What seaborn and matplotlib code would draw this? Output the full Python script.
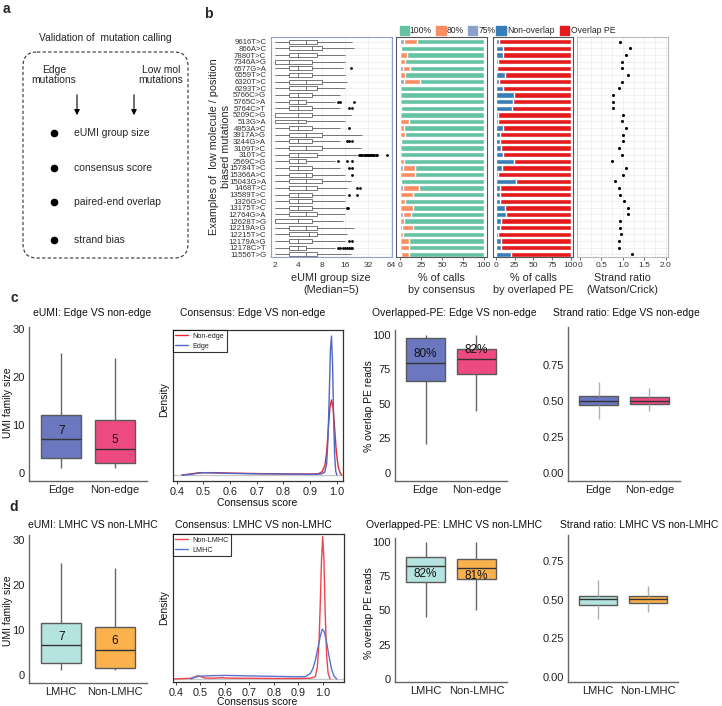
import numpy as np
import pandas as pd
import matplotlib
matplotlib.use("Agg")
import matplotlib.pyplot as plt
import matplotlib.patches as mpatches
from matplotlib.lines import Line2D
from matplotlib.ticker import NullLocator
import seaborn as sns

# ---------------- data ----------------
mutations = ["9616T>C", "866A>C", "7880T>C", "7346A>G", "6577G>A", "6559T>C", "6320T>C",
             "6293T>C", "5766C>G", "5765C>A", "5764C>T", "5209C>G", "513G>A", "4953A>C",
             "3917A>G", "3244G>A", "3109T>C", "310T>C", "2569C>G", "15784T>C", "15366A>C",
             "15043G>A", "1468T>C", "13589T>C", "1326G>C", "13175T>C", "12764G>A",
             "12628T>G", "12219A>G", "12215T>C", "12179A>G", "12178C>T", "11556T>G"]

# eUMI group size box stats (log2 axis)
eumi_lo = [2, 2, 2, 2, 2, 2, 2, 2, 2, 2, 2, 2, 2, 2, 2, 2, 2, 2, 2, 2, 2, 2, 2, 2, 2, 2, 2, 2, 2, 2, 2, 2, 2]
eumi_q1 = [3, 3, 3, 2, 3, 3, 3, 3, 3, 3, 3, 2, 2, 3, 3, 3, 3, 3, 3, 3, 3, 3, 3, 3, 3, 3, 3, 2, 3, 3, 3, 3, 3]
eumi_med = [5, 6, 4, 3, 4, 4, 5, 5, 4, 4, 4, 4, 4, 4, 5, 4, 5, 4, 4, 4, 5, 5, 5, 4, 4, 4, 5, 4, 5, 5.5, 4, 4, 5]
eumi_q3 = [7, 8, 7, 6, 6, 6, 8, 7, 6, 5, 6, 6, 5, 6, 8, 6, 8, 7, 5, 6, 6, 8, 7, 6, 6, 6, 7, 6, 7, 7, 6, 5, 7]
eumi_hi = [20, 21, 16, 16, 15, 16, 17, 16, 14, 12, 14, 19, 16, 14, 27, 14, 26, 23, 12, 14, 16, 19, 17, 16,
           16, 16, 16, 15, 21, 17, 16, 12, 19]
outlier_mut = ["6577G>A",
               "5765C>A", "5765C>A", "5765C>A",
               "5764C>T", "5764C>T",
               "4953A>C",
               "3244G>A", "3244G>A", "3244G>A",
               "310T>C", "310T>C", "310T>C", "310T>C", "310T>C", "310T>C", "310T>C", "310T>C", "310T>C",
               "310T>C", "310T>C", "310T>C", "310T>C", "310T>C", "310T>C", "310T>C", "310T>C", "310T>C",
               "2569C>G", "2569C>G", "2569C>G",
               "15784T>C", "15784T>C",
               "15366A>C",
               "1468T>C", "1468T>C",
               "13589T>C", "13589T>C",
               "13175T>C", "13175T>C",
               "12179A>G", "12179A>G",
               "12178C>T", "12178C>T", "12178C>T", "12178C>T", "12178C>T", "12178C>T", "12178C>T", "12178C>T"]
outlier_val = [19,
               13, 14, 21,
               18, 20,
               18,
               17, 18, 20,
               24, 25, 26, 27, 28, 29, 30, 31, 32, 33, 34, 35, 36, 37, 38, 40, 42, 56,
               13, 17, 20,
               18, 20,
               20,
               23, 25,
               18, 23,
               17, 17.5,
               18, 20,
               13, 14, 15, 16, 17, 18, 19, 20]

# % of calls by consensus
cons_75 = [5, 0, 0, 0, 3, 0, 5, 0, 0, 0, 0, 0, 0, 0, 0, 0, 0, 0, 0, 3, 0, 0, 3, 0, 0, 0, 3, 0, 2, 0, 0, 0, 1]
cons_80 = [15, 1, 8, 6, 9, 6, 19, 0, 0, 0, 1, 0, 10, 4, 6, 1, 0, 0, 4, 15, 18, 1, 19, 15, 6, 15, 10, 5, 13, 3,
           10, 10, 9]
cons_100 = [80, 99, 92, 94, 88, 94, 76, 100, 100, 100, 99, 100, 90, 96, 94, 99, 100, 100, 96, 82, 82, 99, 78,
            85, 94, 85, 87, 95, 85, 97, 90, 90, 90]

# % of calls by overlapped PE
pe_non = [4, 10, 10, 3, 1.5, 12, 4, 10, 24, 23, 21, 3, 3, 10, 6, 6, 7, 9, 24, 8, 3, 27, 6, 6, 6, 12, 13, 7, 5,
          3, 7, 7, 20]
pe_overlap = [96, 90, 90, 97, 98.5, 88, 96, 90, 76, 77, 79, 97, 97, 90, 94, 94, 93, 91, 76, 92, 97, 73, 94, 94,
              94, 88, 87, 93, 95, 97, 93, 93, 80]

# strand ratio (Watson/Crick)
strand_ratio = [0.94, 1.17, 1.06, 0.98, 0.98, 1.11, 0.98, 0.92, 0.78, 0.78, 0.78, 1.0, 0.98, 1.06, 0.99, 0.99,
                0.91, 0.98, 0.74, 1.06, 0.99, 0.81, 0.92, 0.93, 1.03, 1.12, 1.12, 0.94, 0.94, 0.95, 0.92,
                0.92, 1.22]

# panel c: Edge vs non-edge   (whisker low, q1, median, q3, whisker high)
groups_c = ["Edge", "Non-edge"]
eumi_c = {"lo": [1, 1], "q1": [3, 2], "med": [7, 5], "q3": [12, 11], "hi": [25, 24]}
eumi_c_labels = ["7", "5"]
pe_c = {"lo": [21, 45], "q1": [67, 72], "med": [80, 82.5], "q3": [98, 90], "hi": [100, 100]}
pe_c_labels = ["80%", "82%"]
strand_c = {"lo": [0.372, 0.43], "q1": [0.469, 0.481], "med": [0.50, 0.50], "q3": [0.535, 0.53],
            "hi": [0.632, 0.592]}
dens_c_x_nonedge = [0.42, 0.45, 0.48, 0.50, 0.55, 0.60, 0.70, 0.80, 0.90, 0.93, 0.945, 0.955, 0.962, 0.968,
                    0.974, 0.98, 0.986, 0.992, 0.998, 1.005, 1.012, 1.018]
dens_c_y_nonedge = [0.0, 0.2, 0.45, 0.5, 0.5, 0.4, 0.3, 0.25, 0.2, 0.25, 0.7, 2.0, 5, 10, 14.5, 16.2, 14.5, 10,
                    5, 1.8, 0.5, 0.0]
dens_c_x_edge = [0.42, 0.45, 0.48, 0.50, 0.53, 0.56, 0.60, 0.70, 0.80, 0.90, 0.94, 0.955, 0.962, 0.967, 0.972,
                 0.976, 0.980, 0.984, 0.988, 0.992, 0.996, 1.000]
dens_c_y_edge = [0.0, 0.1, 0.4, 0.5, 0.45, 0.4, 0.35, 0.25, 0.2, 0.15, 0.2, 0.6, 2.5, 8, 18, 27, 30, 24, 12, 4,
                 0.8, 0.0]

# panel d: LMHC vs non-LMHC
groups_d = ["LMHC", "Non-LMHC"]
eumi_d = {"lo": [1, 1], "q1": [2.6, 1.6], "med": [6.5, 5.6], "q3": [11.6, 10.6], "hi": [24.8, 23.7]}
eumi_d_labels = ["7", "6"]
pe_d = {"lo": [45, 50], "q1": [71, 73], "med": [82.5, 81], "q3": [89, 87.6], "hi": [100, 100]}
pe_d_labels = ["82%", "81%"]
strand_d = {"lo": [0.378, 0.42], "q1": [0.467, 0.48], "med": [0.504, 0.504], "q3": [0.526, 0.522],
            "hi": [0.626, 0.588]}
dens_d_x_nonlmhc = [0.387, 0.42, 0.46, 0.48, 0.49, 0.50, 0.52, 0.55, 0.58, 0.59, 0.60, 0.65, 0.70, 0.80, 0.90,
                    0.95, 0.97, 0.978, 0.985, 0.99, 0.995, 1.0, 1.005, 1.01, 1.016, 1.022, 1.03]
dens_d_y_nonlmhc = [0.0, 0.05, 0.15, 0.5, 0.7, 0.5, 0.2, 0.15, 0.25, 0.3, 0.2, 0.15, 0.15, 0.1, 0.1, 0.15, 0.5,
                    2.5, 8, 16, 25, 30, 25, 14, 5, 1.2, 0.0]
dens_d_x_lmhc = [0.46, 0.48, 0.50, 0.55, 0.60, 0.70, 0.80, 0.90, 0.93, 0.95, 0.96, 0.97, 0.98, 0.99, 0.998,
                 1.006, 1.015, 1.025, 1.035, 1.045, 1.057]
dens_d_y_lmhc = [0.0, 0.4, 0.6, 0.7, 0.75, 0.65, 0.55, 0.45, 0.5, 1.2, 2.2, 4.0, 6.5, 9.0, 10.5, 10.0, 8.0, 5.0,
                 2.3, 0.7, 0.0]

# ---------------- style ----------------
sns.set_theme(style="white")
plt.rcParams['font.family'] = ['Liberation Sans', 'DejaVu Sans']

W, H = 722, 706
fig = plt.figure(figsize=(W / 100, H / 100), dpi=100)

col_100, col_80, col_75 = "#66c2a5", "#fc8d62", "#8da0cb"
col_non, col_ovl = "#377eb8", "#e41a1c"
pal_c = {"Edge": "#6b77bf", "Non-edge": "#ec4a80"}
pal_d = {"LMHC": "#b5e3df", "Non-LMHC": "#fbb24e"}
line_red, line_blue = "#e8262c", "#4f67c4"


def px_axes(l, t, r, b):
    return fig.add_axes([l / W, 1 - b / H, (r - l) / W, (b - t) / H])


# background axes in pixel coordinates for diagram, titles and labels
bg = fig.add_axes([0, 0, 1, 1])
bg.set_xlim(0, W)
bg.set_ylim(H, 0)
bg.set_axis_off()

# ---------------- panel a ----------------
for lab, x, y in [("a", 6, 9), ("b", 208, 14), ("c", 14, 298), ("d", 14, 507)]:
    bg.text(x, y, lab, fontsize=10, fontweight="bold", ha="center", va="center")

bg.text(105, 38, "Validation of  mutation calling", fontsize=7.4, ha="center", va="center")
bg.add_patch(mpatches.FancyBboxPatch((23, 52), 165, 206, boxstyle="round,pad=0,rounding_size=14",
                                     fill=False, linestyle=(0, (3, 2)), linewidth=0.8, edgecolor="#333333"))
bg.text(54, 75, "Edge\nmutations", fontsize=7.5, ha="center", va="center", linespacing=1.1)
bg.text(161, 75, "Low mol\nmutations", fontsize=7.5, ha="center", va="center", linespacing=1.1)
for ax_x in (77, 134):
    bg.annotate("", xy=(ax_x, 118), xytext=(ax_x, 92),
                arrowprops=dict(arrowstyle="-|>", color="black", lw=0.8, mutation_scale=8))
for item, y in [("eUMI group size", 133), ("consensus score", 168), ("paired-end overlap", 202),
                ("strand bias", 240)]:
    bg.plot([54], [y], "o", ms=4.5, color="black")
    bg.text(74, y, item, fontsize=7.5, ha="left", va="center")

# ---------------- panel b ----------------
ylim_b = (32.4, -0.72)

ax_box = px_axes(271, 37, 392, 257)
box_df = pd.DataFrame({"mutation": np.repeat(mutations, 5),
                       "size": np.ravel(np.column_stack([eumi_lo, eumi_q1, eumi_med, eumi_q3, eumi_hi]))})
out_df = pd.DataFrame({"mutation": outlier_mut, "size": outlier_val})
for yy in range(len(mutations)):
    ax_box.axhline(yy, color="#ececec", lw=0.5, zorder=0)
sns.boxplot(data=box_df, x="size", y="mutation", order=mutations, orient="y", whis=(0, 100), width=0.6,
            color="white", saturation=1, linecolor="#444444", linewidth=0.5, showcaps=False,
            log_scale=2, ax=ax_box)
sns.stripplot(data=out_df, x="size", y="mutation", order=mutations, orient="y", jitter=False,
              color="black", size=2, log_scale=2, ax=ax_box)
ax_box.set_xlim(1.77, 65)
ax_box.set_xticks([2, 4, 8, 16, 32, 64])
ax_box.set_xticklabels(["2", "4", "8", "16", "32", "64"])
ax_box.xaxis.set_minor_locator(NullLocator())
for xv in [2, 4, 8, 16, 32, 64]:
    ax_box.axvline(xv, color="#ececec", lw=0.5, zorder=0)
ax_box.set_ylim(*ylim_b)
ax_box.set_xlabel("")
ax_box.set_ylabel("")
ax_box.tick_params(axis="y", labelsize=5.6, length=2, width=0.5, pad=1.5, colors="#333333")
ax_box.tick_params(axis="x", labelsize=6, length=2, width=0.5, pad=1.5, colors="#333333")
for s in ax_box.spines.values():
    s.set_color("#8f9fd3")
    s.set_linewidth(0.8)

ax_con = px_axes(396, 37, 487, 257)
cons_total = np.array(cons_75) + np.array(cons_80) + np.array(cons_100)
cons_mid = np.array(cons_75) + np.array(cons_80)
sns.barplot(x=cons_total, y=mutations, order=mutations, orient="y", color=col_100, saturation=1,
            width=0.8, errorbar=None, ax=ax_con)
sns.barplot(x=cons_mid, y=mutations, order=mutations, orient="y", color=col_80, saturation=1,
            width=0.8, errorbar=None, ax=ax_con)
sns.barplot(x=cons_75, y=mutations, order=mutations, orient="y", color=col_75, saturation=1,
            width=0.8, errorbar=None, ax=ax_con)
ax_con.set_xlim(-5, 104)
ax_con.set_xticks([0, 25, 50, 75, 100])
ax_con.legend(handles=[mpatches.Patch(color=col_100, label="100%"),
                       mpatches.Patch(color=col_80, label="80%"),
                       mpatches.Patch(color=col_75, label="75%")],
              ncol=3, loc="lower left", bbox_to_anchor=(0.02, 1.0), frameon=False, fontsize=6.2,
              handlelength=1.1, handleheight=1.3, handletextpad=0.1, columnspacing=0.5,
              borderaxespad=0.2, borderpad=0)

ax_pe = px_axes(493, 37, 573, 257)
pe_total = np.array(pe_non) + np.array(pe_overlap)
sns.barplot(x=pe_total, y=mutations, order=mutations, orient="y", color=col_ovl, saturation=1,
            width=0.8, errorbar=None, ax=ax_pe)
sns.barplot(x=pe_non, y=mutations, order=mutations, orient="y", color=col_non, saturation=1,
            width=0.8, errorbar=None, ax=ax_pe)
ax_pe.set_xlim(-4, 103)
ax_pe.set_xticks([0, 25, 50, 75, 100])
ax_pe.legend(handles=[mpatches.Patch(color=col_non, label="Non-overlap"),
                      mpatches.Patch(color=col_ovl, label="Overlap PE")],
             ncol=2, loc="lower left", bbox_to_anchor=(0.02, 1.0), frameon=False, fontsize=6.2,
             handlelength=1.1, handleheight=1.3, handletextpad=0.15, columnspacing=0.6,
             borderaxespad=0.2, borderpad=0)

ax_str = px_axes(577, 37, 668, 257)
for yy in range(len(mutations)):
    ax_str.axhline(yy, color="#ececec", lw=0.5, zorder=0)
for xv in [0, 0.25, 0.5, 0.75, 1.0, 1.25, 1.5, 1.75, 2.0]:
    ax_str.axvline(xv, color="#ececec", lw=0.5, zorder=0)
sns.stripplot(x=strand_ratio, y=mutations, order=mutations, orient="y", jitter=False, color="black",
              size=2.2, ax=ax_str)
ax_str.set_xlim(-0.07, 2.05)
ax_str.set_xticks([0, 0.5, 1.0, 1.5, 2.0])
ax_str.set_xticklabels(["0", "0.5", "1.0", "1.5", "2.0"])

for ax, ec in [(ax_con, "#555555"), (ax_pe, "#555555"), (ax_str, "#bbbbbb")]:
    ax.set_ylim(*ylim_b)
    ax.set_yticks([])
    ax.set_xlabel("")
    ax.set_ylabel("")
    ax.tick_params(axis="x", labelsize=6, length=2, width=0.5, pad=1.5, colors="#333333", bottom=True)
    for s in ax.spines.values():
        s.set_color(ec)
        s.set_linewidth(0.8)

bg.text(220, 147, "Examples of  low molecule / position\nbiased mutations", rotation=90, fontsize=7.8,
        ha="center", va="center", linespacing=1.15)
for xc, txt in [(331, "eUMI group size\n(Median=5)"), (441, "% of calls\nby consensus"),
                (533, "% of calls\nby overlaped PE"), (622, "Strand ratio\n(Watson/Crick)")]:
    bg.text(xc, 284, txt, fontsize=7.8, ha="center", va="center", linespacing=1.25)


# ---------------- panels c and d ----------------
def small_box(ax, groups, st, pal, labels, lab_off, whisker_col):
    df = pd.DataFrame({"group": np.repeat(groups, 5),
                       "value": np.ravel(np.column_stack([st["lo"], st["q1"], st["med"], st["q3"], st["hi"]]))})
    sns.boxplot(data=df, x="group", y="value", hue="group", palette=pal, legend=False, order=groups,
                whis=(0, 100), width=0.75, saturation=1, showcaps=False, linecolor="#5a5a5a", linewidth=1.0,
                whiskerprops={"color": whisker_col}, medianprops={"color": "#333333"}, ax=ax)
    if labels is not None:
        for i, lab in enumerate(labels):
            ax.text(i, st["med"][i] + lab_off, lab, ha="center", va="center", fontsize=8.5, color="#111111")
    ax.set_xlim(-0.6, 1.6)
    ax.set_xlabel("")
    ax.set_ylabel("")
    sns.despine(ax=ax)
    for s in ["left", "bottom"]:
        ax.spines[s].set_color("#666666")
        ax.spines[s].set_linewidth(1.0)
    ax.tick_params(axis="both", labelsize=8, length=0, pad=3, colors="#222222")


def density(ax, xa, ya, ca, la, xb, yb, cb, lb, xlim, ylim):
    ax.axhline(0, color="#c8c8c8", lw=1.0, zorder=0)
    sns.lineplot(x=xa, y=ya, color=ca, lw=1.0, estimator=None, sort=False, ax=ax)
    sns.lineplot(x=xb, y=yb, color=cb, lw=1.0, estimator=None, sort=False, ax=ax)
    ax.set_xlim(*xlim)
    ax.set_ylim(*ylim)
    ax.set_yticks([])
    ax.set_xticks([0.4, 0.5, 0.6, 0.7, 0.8, 0.9, 1.0])
    ax.set_xticklabels(["0.4", "0.5", "0.6", "0.7", "0.8", "0.9", "1.0"])
    ax.tick_params(axis="x", labelsize=7.8, length=2, width=0.6, pad=2, colors="#222222", bottom=True)
    for s in ax.spines.values():
        s.set_color("#333333")
        s.set_linewidth(0.9)
    leg = ax.legend(handles=[Line2D([0], [0], color=ca, lw=1.0, label=la),
                             Line2D([0], [0], color=cb, lw=1.0, label=lb)],
                    loc="upper left", fontsize=5.2, frameon=True, fancybox=False, borderaxespad=0,
                    handlelength=1.8, handletextpad=0.6, borderpad=0.35, labelspacing=0.4)
    leg.get_frame().set_edgecolor("black")
    leg.get_frame().set_linewidth(0.8)


# row c
ax = px_axes(29, 327, 147, 481)
small_box(ax, groups_c, eumi_c, pal_c, eumi_c_labels, 1.8, "#666666")
ax.set_ylim(-1.7, 30.4)
ax.set_yticks([0, 10, 20, 30])

ax = px_axes(172.7, 330, 342.7, 481)
density(ax, dens_c_x_nonedge, dens_c_y_nonedge, line_red, "Non-edge",
        dens_c_x_edge, dens_c_y_edge, line_blue, "Edge", (0.385, 1.022), (-1.3, 31.3))

ax = px_axes(395, 330, 507, 481)
small_box(ax, groups_c, pe_c, pal_c, pe_c_labels, 6.5, "#666666")
ax.set_ylim(-5.8, 103.6)
ax.set_yticks([0, 25, 50, 75, 100])

ax = px_axes(568, 327, 680, 481)
small_box(ax, groups_c, strand_c, pal_c, None, 0, "#b0b0b0")
ax.set_ylim(-0.056, 1.014)
ax.set_yticks([0, 0.25, 0.5, 0.75])
ax.set_yticklabels(["0.00", "0.25", "0.50", "0.75"])

# row d
ax = px_axes(29, 535, 147, 683)
small_box(ax, groups_d, eumi_d, pal_d, eumi_d_labels, 2.0, "#666666")
ax.set_ylim(-1.85, 31.1)
ax.set_yticks([0, 10, 20, 30])

ax = px_axes(172.7, 534.3, 344, 682)
density(ax, dens_d_x_nonlmhc, dens_d_y_nonlmhc, "#f0434b", "Non-LMHC",
        dens_d_x_lmhc, dens_d_y_lmhc, "#5a73d0", "LMHC", (0.3865, 1.087), (-0.64, 30.5))

ax = px_axes(395, 538, 507, 682)
small_box(ax, groups_d, pe_d, pal_d, pe_d_labels, -6, "#666666")
ax.set_ylim(-2.2, 102.9)
ax.set_yticks([0, 25, 50, 75, 100])

ax = px_axes(568, 535, 678, 682)
small_box(ax, groups_d, strand_d, pal_d, None, 0, "#b0b0b0")
ax.set_ylim(-0.032, 0.918)
ax.set_yticks([0, 0.25, 0.5, 0.75])
ax.set_yticklabels(["0.00", "0.25", "0.50", "0.75"])

# titles and axis labels of c/d
for x, y, txt in [(33, 313, "eUMI: Edge VS non-edge"), (180, 313, "Consensus: Edge VS non-edge"),
                  (372, 313, "Overlapped-PE: Edge VS non-edge"), (553, 313, "Strand ratio: Edge VS non-edge"),
                  (28, 525, "eUMI: LMHC VS non-LMHC"), (175, 525, "Consensus: LMHC VS non-LMHC"),
                  (366, 525, "Overlapped-PE: LMHC VS non-LMHC"), (560, 525, "Strand ratio: LMHC VS non-LMHC")]:
    bg.text(x, y, txt, fontsize=7.5, ha="left", va="center", color="#111111")

for x, y, txt in [(8, 403, "UMI family size"), (8, 611, "UMI family size"),
                  (164, 400, "Density"), (164, 608, "Density"),
                  (369, 406, "% overlap PE reads"), (369, 613, "% overlap PE reads")]:
    bg.text(x, y, txt, rotation=90, fontsize=7.5, ha="center", va="center", color="#111111")
for y in (503, 702):
    bg.text(257, y, "Consensus score", fontsize=7.5, ha="center", va="center", color="#111111")

fig.savefig("out.png", dpi=100)
